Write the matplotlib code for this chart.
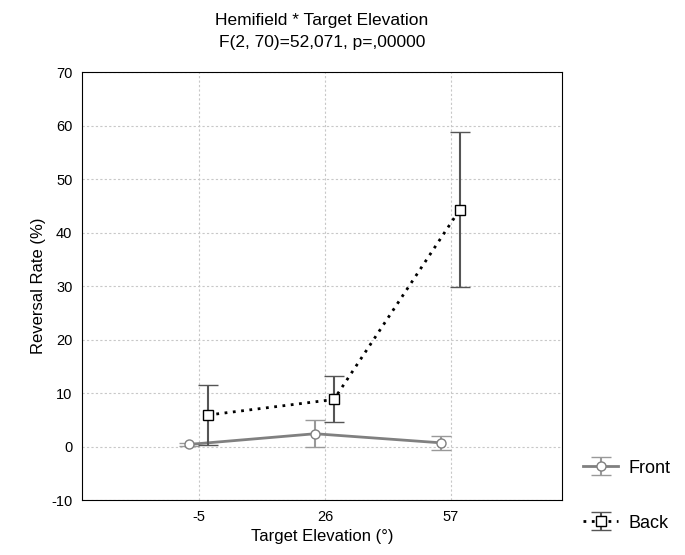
import matplotlib.pyplot as plt
import numpy as np

plt.rcParams['font.family'] = ['Liberation Sans', 'DejaVu Sans']
plt.rcParams['axes.unicode_minus'] = False

elevations = ['-5', '26', '57']
front_mean = [0.4, 2.4, 0.7]
front_err = [0.3, 2.5, 1.3]
back_mean = [5.9, 8.8, 44.3]
back_err = [5.7, 4.3, 14.5]

x = np.arange(len(elevations))

fig = plt.figure(figsize=(6.85, 5.55), dpi=100)
ax = fig.add_axes([0.12, 0.099, 0.70, 0.771])

ax.errorbar(x - 0.08, front_mean, yerr=front_err, color='#808080', lw=2,
            marker='o', ms=6.5, mfc='white', mec='#808080', mew=1,
            ecolor='#999999', elinewidth=1.5, capsize=7, capthick=1.2,
            label='Front', zorder=3)
ax.errorbar(x + 0.07, back_mean, yerr=back_err, color='black', lw=2, ls=(0, (1, 2)),
            marker='s', ms=6.5, mfc='white', mec='black', mew=1,
            ecolor='#555555', elinewidth=1.5, capsize=7, capthick=1.2,
            label='Back', zorder=4)

ax.set_xlim(-0.93, 2.88)
ax.set_ylim(-10, 70)
ax.set_yticks(range(-10, 71, 10))
ax.set_xticks(x)
ax.set_xticklabels(elevations)
ax.grid(True, ls=(0, (2, 2)), color='#c8c8c8', lw=0.8)
ax.set_axisbelow(True)
ax.tick_params(labelsize=10.5, length=0, pad=7)

ax.set_xlabel('Target Elevation (°)', fontsize=12)
ax.set_ylabel('Reversal Rate (%)', fontsize=12)
ax.set_title('Hemifield * Target Elevation\nF(2, 70)=52,071, p=,00000', fontsize=12.5,
             pad=18, linespacing=1.6)

ax.legend(loc='upper left', bbox_to_anchor=(1.0, 0.145), frameon=False, fontsize=13,
          handlelength=1.9, labelspacing=2.1, borderaxespad=0.8, handletextpad=0.6)

fig.savefig('out.png', dpi=100)
